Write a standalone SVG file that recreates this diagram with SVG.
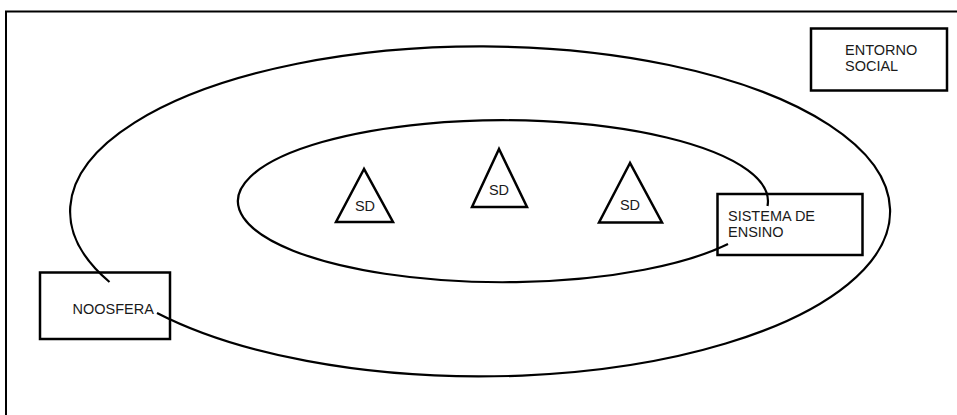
<svg xmlns="http://www.w3.org/2000/svg" width="957" height="415" viewBox="0 0 957 415">
<style>
.frame{fill:none;stroke:#000;stroke-width:2}
.curve{fill:none;stroke:#000;stroke-width:2.2}
.box{fill:none;stroke:#000;stroke-width:2.5}
.tri{fill:none;stroke:#000;stroke-width:2.5;stroke-linejoin:miter}
.lbl{font-family:"Liberation Sans",Arial,sans-serif;font-size:14.5px;fill:#1a1a1a}
.mid{text-anchor:middle}
</style>
<rect width="957" height="415" fill="#fff"/>
<rect class="frame" x="6" y="11.5" width="1000" height="500"/>
<g id="connectors">
<path id="outer-ellipse" class="curve" d="M 157,313 A 410 165 0 1 0 109.5,282"/>
<path id="inner-ellipse" class="curve" d="M 728,244 A 265 81 0 1 1 767.5,206"/>
</g>
<g id="entorno-social">
<rect class="box" x="811" y="28.5" width="136" height="62"/>
<text class="lbl" x="845" y="55">ENTORNO</text>
<text class="lbl" x="845" y="71">SOCIAL</text>
</g>
<g id="noosfera">
<rect class="box" x="40" y="272.5" width="130" height="66.5"/>
<text class="lbl" x="72.5" y="313.5">NOOSFERA</text>
</g>
<g id="sistema-de-ensino">
<rect class="box" x="717.5" y="194" width="145" height="61"/>
<text class="lbl" x="728" y="221">SISTEMA DE</text>
<text class="lbl" x="728" y="237">ENSINO</text>
</g>
<g id="sd1">
<polygon class="tri" points="364,169 336,222 393,222"/>
<text class="lbl mid" x="365" y="210.5">SD</text>
</g>
<g id="sd2">
<polygon class="tri" points="499,149 472,207 527,207"/>
<text class="lbl mid" x="499" y="195">SD</text>
</g>
<g id="sd3">
<polygon class="tri" points="630,163 599,222.5 662,222.5"/>
<text class="lbl mid" x="630" y="210">SD</text>
</g>
</svg>
